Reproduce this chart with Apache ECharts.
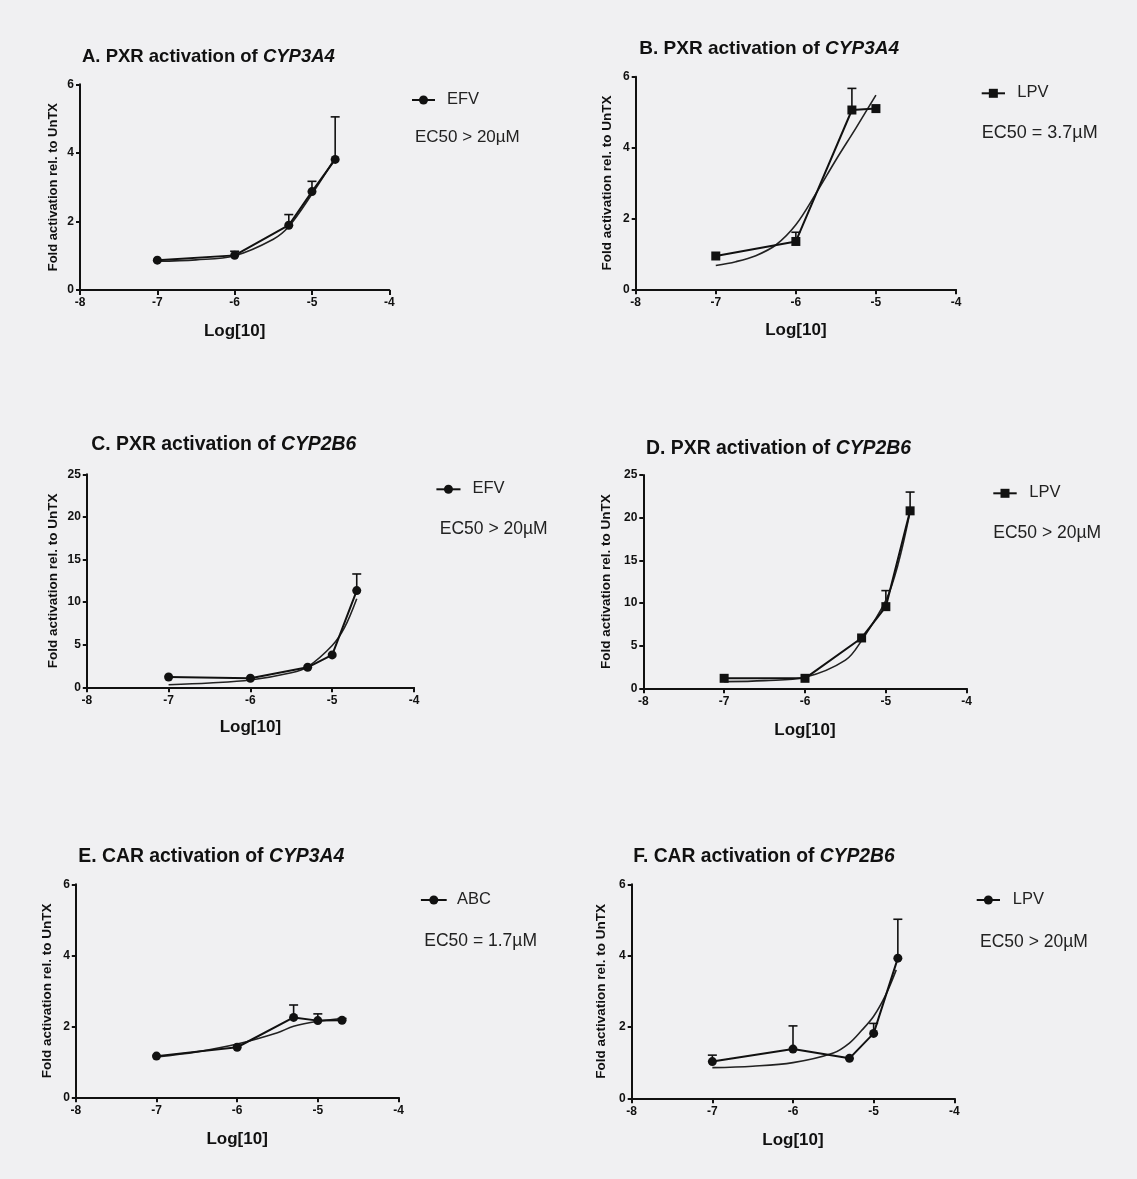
<!DOCTYPE html>
<html>
<head>
<meta charset="utf-8">
<script src="https://cdn.jsdelivr.net/npm/echarts@6/dist/echarts.min.js"></script>
<style>
html,body{margin:0;padding:0;background:#f0f0f2;}
#chart{width:1137px;height:1179px;}
</style>
</head>
<body>
<div id="chart"></div>
<script>
// ---------- DATA ----------
const xTicks = [-8, -7, -6, -5, -4];
const xLog = [-7, -6, -5.3, -5, -4.7];
const xLogB = [-7, -6, -5.3, -5];

const meanA = [0.87, 1.01, 1.89, 2.87, 3.81];
const upperA = [null, 1.13, 2.2, 3.17, 5.05];
const fitXA = [-7, -6.5, -6, -5.5, -5.3, -5, -4.7];
const fitA = [0.84, 0.88, 1.0, 1.48, 1.85, 2.8, 3.85];

const meanB = [0.94, 1.35, 5.06, 5.1];
const upperB = [null, 1.61, 5.67, null];
const fitXB = [-7, -6.75, -6.5, -6.25, -6, -5.75, -5.5, -5.25, -5];
const fitB = [0.67, 0.78, 0.95, 1.25, 1.82, 2.7, 3.65, 4.55, 5.48];

const meanC = [1.21, 1.06, 2.35, 3.8, 11.35];
const upperC = [null, null, null, null, 13.3];
const fitXC = [-7, -6.5, -6, -5.5, -5.3, -5, -4.85, -4.7];
const fitC = [0.3, 0.5, 0.85, 1.7, 2.4, 4.9, 7.0, 10.4];

const meanD = [1.17, 1.17, 5.9, 9.57, 20.8];
const upperD = [null, null, null, 11.45, 23.0];
const fitXD = [-7, -6.5, -6, -5.5, -5.3, -5, -4.85, -4.7];
const fitD = [0.78, 0.9, 1.29, 3.3, 5.6, 10.3, 14.5, 20.7];

const meanE = [1.16, 1.41, 2.25, 2.16, 2.17];
const upperE = [null, null, 2.6, 2.35, 2.22];
const fitXE = [-7, -6.5, -6, -5.5, -5.3, -5, -4.7];
const fitE = [1.14, 1.28, 1.5, 1.82, 2.0, 2.14, 2.22];

const meanF = [1.03, 1.38, 1.12, 1.82, 3.93];
const upperF = [1.21, 2.03, null, 2.1, 5.02];
const fitXF = [-7, -6.5, -6, -5.5, -5.3, -5.15, -5, -4.85, -4.72];
const fitF = [0.86, 0.9, 1.0, 1.27, 1.55, 1.9, 2.3, 2.9, 3.6];

const titlesMain = ['A. PXR activation of ', 'B. PXR activation of ', 'C. PXR activation of ', 'D. PXR activation of ', 'E. CAR activation of ', 'F. CAR activation of '];
const titlesGene = ['CYP3A4', 'CYP3A4', 'CYP2B6', 'CYP2B6', 'CYP3A4', 'CYP2B6'];
const drugNames = ['EFV', 'LPV', 'EFV', 'LPV', 'ABC', 'LPV'];
const ec50Labels = ['EC50 > 20\u00b5M', 'EC50 = 3.7\u00b5M', 'EC50 > 20\u00b5M', 'EC50 > 20\u00b5M', 'EC50 = 1.7\u00b5M', 'EC50 > 20\u00b5M'];
const yMaxes = [6, 6, 25, 25, 6, 6];
const yIntervals = [2, 2, 5, 5, 2, 2];
const xAxisName = 'Log[10]';
const yAxisName = 'Fold activation rel. to UnTX';

// ---------- LAYOUT ----------
const FONT = 'Arial, "Liberation Sans", sans-serif';
const INK = '#111';
const panels = [
  {grid:{left:80, top:84.3, width:309.3, height:205.7}, title:[82,45.7], tf:18.5, yn:13, ynGap:20.5, xnGap:32.5, sym:'circle',
   leg:[412,435,100,447], ec:[415,139], ef:17, xs:xLog, mean:meanA, up:upperA, fx:fitXA, fy:fitA},
  {grid:{left:635.7, top:76.7, width:320.3, height:212.6}, title:[639.3,37.3], tf:19, yn:13.5, ynGap:21, xnGap:33, sym:'rect',
   leg:[981.7,1005,93.3,1017.3], ec:[981.7,134.3], ef:18, xs:xLogB, mean:meanB, up:upperB, fx:fitXB, fy:fitB},
  {grid:{left:86.8, top:474.3, width:327.2, height:213}, title:[91.3,434], tf:19.4, yn:13.5, ynGap:26.4, xnGap:32, sym:'circle',
   leg:[436.4,460.5,489.3,472.5], ec:[439.8,530], ef:17.5, xs:xLog, mean:meanC, up:upperC, fx:fitXC, fy:fitC},
  {grid:{left:643.3, top:475, width:323.4, height:213.3}, title:[646,437.3], tf:19.4, yn:13.5, ynGap:30.3, xnGap:34, sym:'rect',
   leg:[993.3,1016.7,493.3,1029.3], ec:[993.3,534], ef:17.5, xs:xLog, mean:meanD, up:upperD, fx:fitXD, fy:fitD},
  {grid:{left:75.8, top:884.3, width:322.7, height:213}, title:[78.2,845.7], tf:19.4, yn:13.5, ynGap:21.7, xnGap:33.5, sym:'circle',
   leg:[420.9,446.7,900,457], ec:[424.3,941.7], ef:17.5, xs:xLog, mean:meanE, up:upperE, fx:fitXE, fy:fitE},
  {grid:{left:631.7, top:884.3, width:322.6, height:214}, title:[633.3,845.7], tf:19.3, yn:13.5, ynGap:23, xnGap:34, sym:'circle',
   leg:[976.7,1000,900,1012.7], ec:[980,942.7], ef:17.5, xs:xLog, mean:meanF, up:upperF, fx:fitXF, fy:fitF}
];

const grids = [], xAxes = [], yAxes = [], series = [], titles = [], graphics = [];

panels.forEach((p, i) => {
  grids.push(Object.assign({containLabel:false}, p.grid));
  xAxes.push({
    type:'value', gridIndex:i, min:-8, max:-4, interval:1,
    name:xAxisName, nameLocation:'middle', nameGap:p.xnGap,
    nameTextStyle:{fontFamily:FONT, fontWeight:'bold', fontSize:17, color:INK},
    axisLine:{show:true, onZero:false, lineStyle:{color:INK, width:2}},
    axisTick:{show:true, length:5, lineStyle:{color:INK, width:2}},
    axisLabel:{fontFamily:FONT, fontWeight:'bold', fontSize:12, color:INK, margin:7,
      formatter: v => xTicks.indexOf(v) >= 0 ? String(v) : ''},
    splitLine:{show:false}
  });
  yAxes.push({
    type:'value', gridIndex:i, min:0, max:yMaxes[i], interval:yIntervals[i],
    name:yAxisName, nameLocation:'middle', nameGap:p.ynGap,
    nameTextStyle:{fontFamily:FONT, fontWeight:'bold', fontSize:p.yn, color:INK},
    axisLine:{show:true, lineStyle:{color:INK, width:2}},
    axisTick:{show:true, length:4, lineStyle:{color:INK, width:2}},
    axisLabel:{fontFamily:FONT, fontWeight:'bold', fontSize:12, color:INK, margin:6},
    splitLine:{show:false}
  });
  // fitted curve
  series.push({
    type:'line', xAxisIndex:i, yAxisIndex:i, smooth:0.35,
    showSymbol:false, symbol:'none', silent:true,
    lineStyle:{color:'#222', width:1.6},
    data: p.fx.map((x, k) => [x, p.fy[k]]), z:2
  });
  // data line with markers
  series.push({
    type:'line', xAxisIndex:i, yAxisIndex:i, name:drugNames[i],
    symbol:p.sym, symbolSize:9,
    itemStyle:{color:INK}, lineStyle:{color:INK, width:2},
    data: p.xs.map((x, k) => [x, p.mean[k]]), z:3
  });
  // error bars (upper only)
  const errData = [];
  p.xs.forEach((x, k) => { if (p.up[k] !== null) errData.push([x, p.mean[k], p.up[k]]); });
  series.push({
    type:'custom', xAxisIndex:i, yAxisIndex:i, silent:true, z:1,
    encode:{x:0, y:[1, 2]},
    data: errData,
    renderItem: function(params, api) {
      const x = api.value(0), m = api.value(1), u = api.value(2);
      const p0 = api.coord([x, m]);
      const p1 = api.coord([x, u]);
      return {type:'group', children:[
        {type:'line', shape:{x1:p0[0], y1:p0[1], x2:p1[0], y2:p1[1]}, style:{stroke:INK, lineWidth:1.6}},
        {type:'line', shape:{x1:p1[0]-4.5, y1:p1[1], x2:p1[0]+4.5, y2:p1[1]}, style:{stroke:INK, lineWidth:1.6}}
      ]};
    }
  });
  titles.push({
    left:p.title[0], top:p.title[1], padding:0,
    text:'{m|' + titlesMain[i] + '}{g|' + titlesGene[i] + '}',
    textStyle:{rich:{
      m:{fontFamily:FONT, fontWeight:'bold', fontSize:p.tf, color:INK, lineHeight:22},
      g:{fontFamily:FONT, fontWeight:'bold', fontStyle:'italic', fontSize:p.tf, color:INK, lineHeight:22}
    }}
  });
  // legend
  const [lx1, lx2, ly, tx] = p.leg;
  graphics.push({type:'line', shape:{x1:lx1, y1:ly, x2:lx2, y2:ly}, style:{stroke:INK, lineWidth:2}});
  const mx = (lx1 + lx2) / 2;
  if (p.sym === 'rect') {
    graphics.push({type:'rect', shape:{x:mx-4.5, y:ly-4.5, width:9, height:9}, style:{fill:INK}});
  } else {
    graphics.push({type:'circle', shape:{cx:mx, cy:ly, r:4.5}, style:{fill:INK}});
  }
  graphics.push({type:'text', left:tx, top:ly-9, style:{text:drugNames[i], font:'16.5px ' + FONT, fill:'#222'}});
  graphics.push({type:'text', left:p.ec[0], top:p.ec[1]-10, style:{text:ec50Labels[i], font:p.ef + 'px ' + FONT, fill:'#222'}});
});

const chart = echarts.init(document.getElementById('chart'), null, {renderer:'canvas'});
chart.setOption({
  backgroundColor:'#f0f0f2',
  animation:false,
  title:titles,
  grid:grids,
  xAxis:xAxes,
  yAxis:yAxes,
  series:series,
  graphic:graphics
});
</script>
</body>
</html>
